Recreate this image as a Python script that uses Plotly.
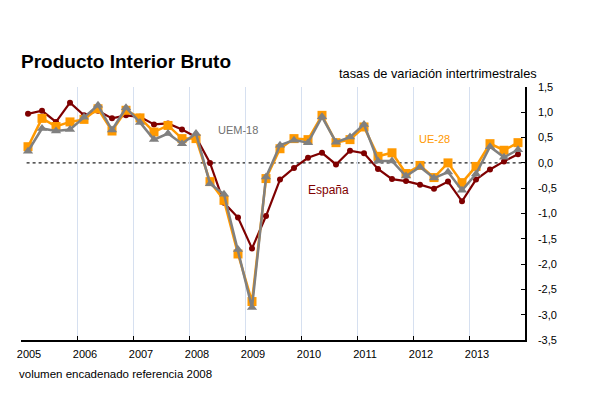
import plotly.graph_objects as go

years = list(range(2005, 2014))
quarters = [y + (q - 0.5) / 4 for y in years for q in range(1, 5)]

espana = [0.97, 1.03, 0.81, 1.19, 0.94, 1.03, 0.88, 0.94, 0.91, 0.76, 0.78, 0.66,
          0.51, 0.00, -0.79, -1.08, -1.69, -1.05, -0.33, -0.10, 0.10, 0.20, -0.03, 0.24,
          0.19, -0.12, -0.32, -0.36, -0.43, -0.51, -0.37, -0.76, -0.33, -0.13, 0.03, 0.17]
ue28 = [0.32, 0.88, 0.72, 0.81, 0.86, 1.07, 0.63, 1.04, 0.89, 0.61, 0.74, 0.48,
        0.48, -0.37, -0.74, -1.80, -2.74, -0.31, 0.28, 0.48, 0.46, 0.94, 0.40, 0.46,
        0.71, 0.13, 0.20, -0.21, -0.05, -0.29, 0.00, -0.39, -0.07, 0.38, 0.25, 0.40]
uem18 = [0.23, 0.68, 0.63, 0.66, 0.90, 1.14, 0.65, 1.09, 0.80, 0.46, 0.58, 0.38,
         0.58, -0.41, -0.62, -1.71, -2.86, -0.28, 0.35, 0.45, 0.40, 0.91, 0.41, 0.51,
         0.76, 0.04, 0.04, -0.26, -0.08, -0.30, -0.18, -0.54, -0.22, 0.32, 0.11, 0.26]

x_tickvals = list(range(2005, 2015))
x_ticktext = [str(y) for y in years] + [""]
y_tickvals = [1.5, 1.0, 0.5, 0.0, -0.5, -1.0, -1.5, -2.0, -2.5, -3.0, -3.5]
y_ticktext = ["1,5", "1,0", "0,5", "0,0", "-0,5", "-1,0", "-1,5", "-2,0", "-2,5", "-3,0", "-3,5"]

RED = "#7f0000"
ORANGE = "#ff9900"
GRAY = "#808080"
FONT = "Liberation Sans, Arial, sans-serif"

fig = go.Figure()
fig.add_shape(type="line", xref="x", yref="y", x0=2005.1, x1=2014, y0=0, y1=0,
              line=dict(color="#222222", width=1.2, dash="dot"), layer="below")

fig.add_trace(go.Scatter(x=quarters, y=espana, mode="lines+markers", name="España",
                         line=dict(color=RED, width=2.2),
                         marker=dict(symbol="circle", size=6, color=RED)))
fig.add_trace(go.Scatter(x=quarters, y=ue28, mode="lines+markers", name="UE-28",
                         line=dict(color=ORANGE, width=2.5),
                         marker=dict(symbol="square", size=9, color=ORANGE)))
fig.add_trace(go.Scatter(x=quarters, y=uem18, mode="lines+markers", name="UEM-18",
                         line=dict(color=GRAY, width=2.5),
                         marker=dict(symbol="triangle-up", size=9, color=GRAY)))

fig.add_annotation(x=2008.88, y=0.645, xref="x", yref="y", text="UEM-18", showarrow=False,
                   font=dict(color="#707070", size=11, family=FONT))
fig.add_annotation(x=2012.39, y=0.47, xref="x", yref="y", text="UE-28", showarrow=False,
                   font=dict(color=ORANGE, size=11, family=FONT))
fig.add_annotation(x=2010.49, y=-0.54, xref="x", yref="y", text="España", showarrow=False,
                   font=dict(color=RED, size=12, family=FONT))

fig.add_annotation(x=-0.003, y=1.099, xref="paper", yref="paper", xanchor="left", yanchor="middle",
                   text="<b>Producto Interior Bruto</b>", showarrow=False,
                   font=dict(color="black", size=19, family=FONT))
fig.add_annotation(x=0.827, y=1.055, xref="paper", yref="paper", xanchor="center", yanchor="middle",
                   text="tasas de variación intertrimestrales", showarrow=False,
                   font=dict(color="black", size=12.8, family=FONT))
fig.add_annotation(x=-0.008, y=-0.134, xref="paper", yref="paper", xanchor="left", yanchor="middle",
                   text="volumen encadenado referencia 2008", showarrow=False,
                   font=dict(color="black", size=11.5, family=FONT))

fig.update_layout(
    width=593, height=389,
    margin=dict(l=9, r=76, t=79, b=57),
    paper_bgcolor="white", plot_bgcolor="white",
    showlegend=False,
    font=dict(family=FONT, size=11, color="black"),
    xaxis=dict(range=[2005, 2014], tickvals=x_tickvals, ticktext=x_ticktext,
               showgrid=True, gridcolor="#d6e0f0", gridwidth=1,
               showline=True, linecolor="black", linewidth=1.5,
               ticks="inside", ticklen=4, tickcolor="black",
               ticklabelshift=8, ticklabelstandoff=3, zeroline=False,
               tickfont=dict(size=11, family=FONT)),
    yaxis=dict(range=[-3.5, 1.5], side="right", tickvals=y_tickvals, ticktext=y_ticktext,
               showgrid=False, zeroline=False,
               showline=True, linecolor="black", linewidth=1.5,
               ticks="inside", ticklen=4, tickcolor="black",
               ticklabelstandoff=9,
               tickfont=dict(size=11, family=FONT)),
)

fig.write_html("out.html")
